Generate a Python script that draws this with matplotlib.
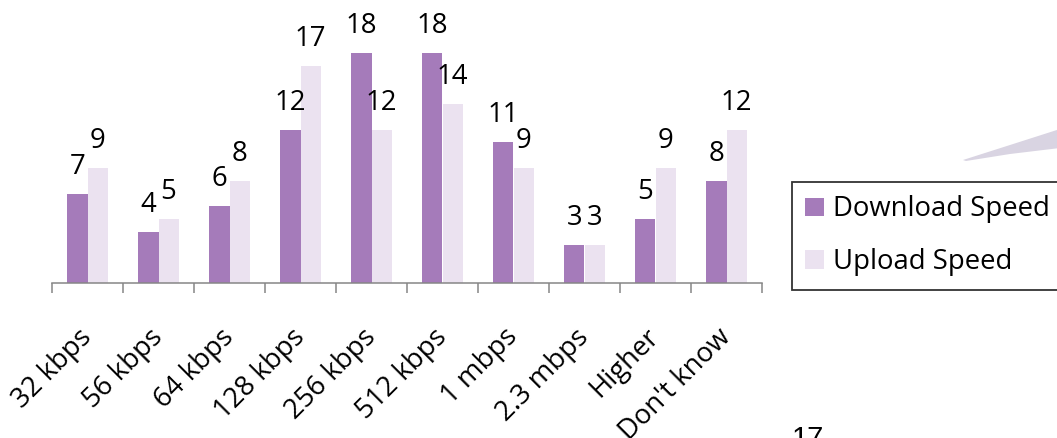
import numpy as np
import matplotlib.pyplot as plt
from matplotlib.patches import Polygon

# Survey results: internet connection speeds
categories = ["32 kbps", "56 kbps", "64 kbps", "128 kbps", "256 kbps",
              "512 kbps", "1 mbps", "2.3 mbps", "Higher", "Don't know"]
download = [7, 4, 6, 12, 18, 18, 11, 3, 5, 8]
upload = [9, 5, 8, 17, 12, 14, 9, 3, 9, 12]

purple = "#A57BBA"
lilac = "#EBE2F0"
axis_gray = "#868686"
fs = 19.8

plt.rcParams["font.family"] = ["Open Sans", "DejaVu Sans"]

W, H = 1057, 438
fig = plt.figure(figsize=(W / 100, H / 100), dpi=100)
ax = fig.add_axes([52 / W, 1 - 283 / H, 710 / W, 255.6 / H])

x = np.arange(len(categories))
w = 0.2817
b1 = ax.bar(x - w / 2, download, w, color=purple, label="Download Speed")
b2 = ax.bar(x + w / 2, upload, w, color=lilac, label="Upload Speed")

# value labels above each bar
for bars, vals in [(b1, download), (b2, upload)]:
    for rect, v in zip(bars, vals):
        ax.annotate(str(v), (rect.get_x() + rect.get_width() / 2, v),
                    xytext=(0, 14.4), textcoords="offset points",
                    ha="center", va="baseline", fontsize=fs, clip_on=False)

ax.set_xlim(-0.5, len(categories) - 0.5)
ax.set_ylim(0, 20)

for side in ["top", "right", "left"]:
    ax.spines[side].set_visible(False)
ax.spines["bottom"].set_color(axis_gray)
ax.spines["bottom"].set_linewidth(1.1)
ax.set_yticks([])

ax.set_xticks(x)
ax.set_xticklabels(categories, rotation=45, ha="right", va="center",
                   rotation_mode="anchor", fontsize=fs)
ax.tick_params(axis="x", which="major", length=0, pad=36)
ax.set_xticks(np.arange(-0.5, len(categories)), minor=True)
ax.tick_params(axis="x", which="minor", length=7, width=1.1,
               color=axis_gray, direction="out")

# legend, partly cut off at the right edge like the source
leg = fig.legend(handles=[b1, b2], loc="upper left",
                 bbox_to_anchor=(791.7 / W, 1 - 181.7 / H),
                 borderaxespad=0, fontsize=fs, frameon=True, fancybox=False,
                 edgecolor="black", borderpad=0.5, labelspacing=0.9,
                 handlelength=0.66, handleheight=0.66, handletextpad=0.33)
leg.get_frame().set_linewidth(1.3)

# decorative swoosh at top right
swoosh = Polygon([(963 / W, 1 - 160 / H), (1010 / W, 1 - 145 / H),
                  (1060 / W, 1 - 129 / H), (1060 / W, 1 - 148 / H),
                  (1010 / W, 1 - 154 / H), (966 / W, 1 - 161 / H)],
                 closed=True, transform=fig.transFigure,
                 facecolor="#D9D4E2", edgecolor="none")
fig.patches.append(swoosh)

# page number, cut off at the bottom
fig.text(792 / W, 1 - 425 / H, "17", fontsize=21, va="top", ha="left",
         family="Liberation Sans")

plt.savefig("out.png")
